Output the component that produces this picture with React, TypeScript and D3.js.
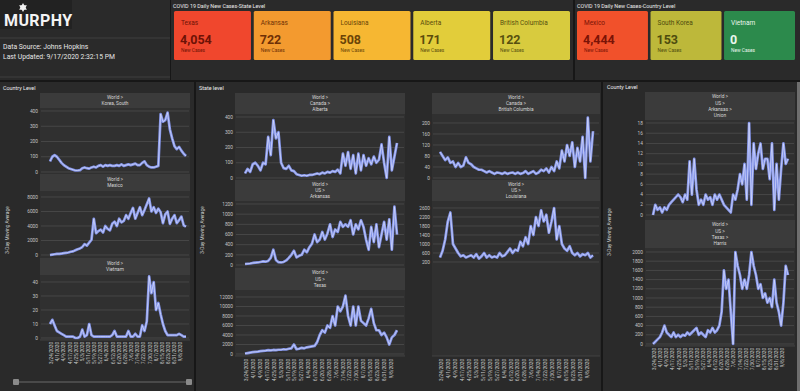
import React from "react";
import * as d3 from "d3";

const W = 800;
const H = 391;
const FONT = "Roboto, 'Open Sans', Arial, sans-serif";

// ---- KPI cards
const stateNames = ["Texas", "Arkansas", "Louisiana", "Alberta", "British Columbia"];
const stateCases = [4054, 722, 508, 171, 122];
const countryNames = ["Mexico", "South Korea", "Vietnam"];
const countryCases = [4444, 153, 0];

const stateFills = ["#f0472d", "#f39a2f", "#f6b732", "#e2cd3a", "#d8cb3e"];
const stateInk = ["#6d1206", "#6e3006", "#6a4507", "#5a4c0c", "#57500f"];
const countryFills = ["#f1512b", "#bdb83a", "#2c8a4c"];
const countryInk = ["#7a1306", "#4e4c0e", "#eaf6ec"];

// ---- time axis (3-day samples from 3/22/2020)
const startDate = new Date(2020, 2, 22);
const stepDays = 3;
const dateLabels = [
  "3/24/2020", "4/1/2020", "4/9/2020", "4/17/2020", "4/25/2020", "5/3/2020",
  "5/11/2020", "5/19/2020", "5/27/2020", "6/4/2020", "6/12/2020", "6/20/2020",
  "6/28/2020", "7/6/2020", "7/14/2020", "7/22/2020", "7/30/2020", "8/7/2020",
  "8/15/2020", "8/23/2020", "8/31/2020", "9/8/2020",
];

// ---- 3-day moving averages
const korea = [70, 100, 110, 100, 80, 60, 45, 35, 25, 20, 15, 10, 10, 12, 25, 30, 25, 22, 30, 35,
  30, 40, 45, 35, 45, 40, 45, 40, 40, 45, 40, 50, 40, 45, 50, 45, 50, 55, 45, 45,
  60, 70, 45, 35, 30, 30, 35, 40, 380, 330, 340, 390, 280, 220, 170, 150, 165, 140, 120, 105];
const mexico = [0, 50, 100, 150, 150, 200, 250, 300, 350, 450, 500, 650, 800, 900, 1100, 1500, 1300, 1700, 2100, 5000,
  3000, 3300, 3500, 3100, 4000, 3600, 3400, 4300, 4600, 4000, 5000, 4500, 4700, 5500, 5000, 5800, 6500, 5000, 5800, 6600,
  5500, 6200, 7000, 7800, 6000, 6600, 5800, 6400, 5900, 4400, 5600, 6000, 4300, 5000, 5500, 4400, 4800, 5300, 4100, 3900];
const vietnam = [10, 13, 9, 5, 4, 3, 2, 1, 1, 1, 1, 0, 0, 1, 6, 1, 2, 10, 2, 1,
  1, 1, 1, 1, 1, 1, 1, 2, 5, 1, 1, 1, 1, 1, 5, 1, 1, 3, 1, 1,
  9, 5, 12, 44, 32, 40, 20, 25, 17, 10, 5, 2, 2, 2, 2, 2, 3, 2, 1, 1];
const alberta = [30, 60, 40, 90, 100, 80, 50, 100, 90, 270, 150, 380, 260, 300, 100, 65, 60, 80, 50, 45,
  25, 20, 15, 18, 15, 20, 20, 25, 30, 25, 35, 30, 40, 35, 45, 40, 55, 30, 160, 80,
  170, 60, 150, 30, 160, 50, 150, 80, 130, 90, 140, 100, 120, 220, 100, 0, 270, 50, 140, 230];
const arkansas = [20, 25, 30, 40, 45, 50, 60, 70, 65, 80, 140, 300, 100, 55, 50, 60, 90, 140, 200, 280,
  150, 180, 200, 300, 250, 350, 420, 600, 450, 500, 650, 500, 620, 800, 550, 700, 650, 850, 750, 800,
  750, 880, 600, 800, 700, 880, 750, 500, 300, 750, 450, 800, 350, 600, 850, 500, 900, 300, 1150, 600];
const texas = [100, 200, 300, 400, 450, 500, 600, 650, 700, 800, 750, 850, 800, 900, 900, 1000, 950, 1100, 1200, 2000,
  1000, 1100, 1300, 1200, 1400, 1500, 1600, 1700, 2500, 4000, 5000, 4500, 6000, 5500, 8000, 6000, 10000, 9000, 10000, 12300,
  8000, 6000, 10000, 6000, 10000, 7000, 6500, 6000, 7500, 9500, 6500, 5000, 5000, 4000, 4500, 3500, 2000, 3500, 4000, 5000];
const britishColumbia = [95, 80, 65, 75, 55, 60, 40, 55, 40, 45, 75, 55, 50, 40, 35, 30, 30, 25, 20, 25,
  20, 15, 20, 18, 15, 20, 15, 18, 20, 15, 20, 15, 18, 25, 15, 20, 25, 15, 20, 30,
  25, 35, 20, 40, 25, 60, 35, 100, 60, 120, 80, 130, 40, 110, 60, 150, 0, 220, 60, 170];
const louisiana = [400, 700, 1200, 2000, 2400, 1000, 800, 600, 450, 500, 400, 450, 500, 400, 550, 350, 450, 600, 400, 500,
  400, 450, 400, 600, 450, 500, 650, 800, 600, 750, 700, 1100, 900, 1300, 1000, 1800, 1400, 2200, 1800, 2500,
  2000, 2300, 1500, 2000, 2600, 1200, 1800, 1000, 800, 700, 900, 600, 500, 600, 450, 550, 500, 600, 400, 500];
const union = [0, 2, 1, 1.5, 0.5, 1.5, 1, 2, 2.5, 3, 3.5, 4, 3.5, 2.5, 4, 3, 10.5, 4, 11, 5,
  2, 3, 2, 4, 3, 3.5, 2, 4, 3, 4, 3, 2, 1.5, 1, 0.5, 4, 3, 5, 8, 6,
  10, 3, 18, 2, 14, 9, 12, 14, 9, 11, 11, 7, 14, 1, 10, 3, 9, 14, 10, 11];
const harris = [0, 50, 100, 150, 250, 400, 250, 200, 150, 250, 150, 200, 150, 200, 180, 250, 200, 250, 300, 350,
  200, 250, 200, 150, 300, 250, 350, 250, 300, 400, 700, 1600, 1200, 1400, 700, 0, 2000, 1700, 1500, 1200,
  1400, 1200, 1500, 2000, 1700, 1500, 1200, 1300, 1000, 1100, 900, 1000, 800, 1400, 900, 700, 400, 900, 1700, 1500];

const endDate = d3.timeDay.offset(startDate, stepDays * (korea.length - 1));
const parseDate = d3.timeParse("%m/%d/%Y");

type Facet = {
  lines: string[];
  values: number[];
  min: number;
  max: number;
  step: number;
  hTop: number;
  hBot: number;
  yTop: number;
  yBot: number;
};

type Column = {
  hx0: number;
  hx1: number;
  dx0: number;
  dx1: number;
  bgTop: number;
  bgBot: number;
  axisY: number;
  facets: Facet[];
};

const countryCol: Column = {
  hx0: 40, hx1: 190, dx0: 50, dx1: 186, bgTop: 93, bgBot: 340, axisY: 342,
  facets: [
    { lines: ["World >", "Korea, South"], values: korea, min: 0, max: 400, step: 100, hTop: 93, hBot: 108, yTop: 111, yBot: 172 },
    { lines: ["World >", "Mexico"], values: mexico, min: 0, max: 8000, step: 2000, hTop: 174, hBot: 191, yTop: 197, yBot: 255 },
    { lines: ["World >", "Vietnam"], values: vietnam, min: 0, max: 40, step: 10, hTop: 258, hBot: 275, yTop: 282, yBot: 338 },
  ],
};

const stateLeftCol: Column = {
  hx0: 235, hx1: 405, dx0: 245, dx1: 397, bgTop: 93, bgBot: 356, axisY: 359,
  facets: [
    { lines: ["World >", "Canada >", "Alberta"], values: alberta, min: 0, max: 400, step: 100, hTop: 93, hBot: 114, yTop: 117, yBot: 178 },
    { lines: ["World >", "US >", "Arkansas"], values: arkansas, min: 0, max: 1200, step: 200, hTop: 180, hBot: 201, yTop: 204, yBot: 265 },
    { lines: ["World >", "US >", "Texas"], values: texas, min: 0, max: 12000, step: 2000, hTop: 268, hBot: 290, yTop: 297, yBot: 354 },
  ],
};

const stateRightCol: Column = {
  hx0: 432, hx1: 600, dx0: 440, dx1: 593, bgTop: 93, bgBot: 356, axisY: 359,
  facets: [
    { lines: ["World >", "Canada >", "British Columbia"], values: britishColumbia, min: 0, max: 200, step: 40, hTop: 93, hBot: 114, yTop: 123, yBot: 178 },
    { lines: ["World >", "US >", "Louisiana"], values: louisiana, min: 200, max: 2600, step: 400, hTop: 180, hBot: 201, yTop: 208, yBot: 262 },
  ],
};

const countyCol: Column = {
  hx0: 645, hx1: 795, dx0: 653, dx1: 788, bgTop: 92, bgBot: 346, axisY: 348,
  facets: [
    { lines: ["World >", "US >", "Arkansas >", "Union"], values: union, min: 0, max: 18, step: 2, hTop: 92, hBot: 120, yTop: 123, yBot: 215 },
    { lines: ["World >", "US >", "Texas >", "Harris"], values: harris, min: 0, max: 2000, step: 200, hTop: 220, hBot: 248, yTop: 252, yBot: 344 },
  ],
};

const fmtTick = d3.format("d");
const fmtCases = d3.format(",");

function FacetChart({ f, col }: { f: Facet; col: Column }) {
  const x = d3.scaleTime().domain([startDate, endDate]).range([col.dx0, col.dx1]);
  const y = d3.scaleLinear().domain([f.min, f.max]).range([f.yBot, f.yTop]);
  const ticks = d3.range(f.min, f.max + f.step / 2, f.step);
  const line = d3
    .line<number>()
    .x((_, i) => x(d3.timeDay.offset(startDate, stepDays * i)))
    .y((v) => y(v));
  const path = line(f.values) || "";
  const cx = (col.hx0 + col.hx1) / 2;
  const mid = (f.hTop + f.hBot) / 2;
  const lh = 6.2;
  return (
    <g>
      <rect x={col.hx0} y={f.hTop} width={col.hx1 - col.hx0} height={f.hBot - f.hTop} fill="#3b3b3b" />
      {f.lines.map((t, i) => (
        <text key={t + i} x={cx} y={mid - ((f.lines.length - 1) * lh) / 2 + i * lh} dy="0.35em"
          textAnchor="middle" fontSize={4.8} fill="#d6d6d6">{t}</text>
      ))}
      {ticks.map((t) => (
        <g key={t}>
          <line x1={col.hx0 + 1} x2={col.hx1 - 1} y1={y(t)} y2={y(t)} stroke="#4d4d4d" strokeWidth={0.8} />
          <text x={col.hx0 - 2} y={y(t)} dy="0.35em" textAnchor="end" fontSize={4.8} fill="#c4c4c4">{fmtTick(t)}</text>
        </g>
      ))}
      <path d={path} fill="none" stroke="#8494e8" strokeWidth={2.7} strokeLinejoin="round" />
      <path d={path} fill="none" stroke="#e2e7ff" strokeWidth={0.9} strokeLinejoin="round" opacity={0.7} />
    </g>
  );
}

function ColumnChart({ col }: { col: Column }) {
  const x = d3.scaleTime().domain([startDate, endDate]).range([col.dx0, col.dx1]);
  return (
    <g>
      <rect x={col.hx0} y={col.bgTop} width={col.hx1 - col.hx0} height={col.bgBot - col.bgTop} fill="#303030" />
      {col.facets.map((f, i) => (
        <FacetChart key={i} f={f} col={col} />
      ))}
      <line x1={col.hx0} x2={col.hx1} y1={col.bgBot} y2={col.bgBot} stroke="#484848" strokeWidth={0.8} />
      {dateLabels.map((d) => {
        const px = x(parseDate(d) as Date);
        return (
          <text key={d} transform={`translate(${px},${col.axisY}) rotate(-90)`} dy="0.35em"
            textAnchor="end" fontSize={4.6} fill="#c8c8c8">{d}</text>
        );
      })}
    </g>
  );
}

function Cards({ names, cases, fills, ink, x0, x1 }: {
  names: string[]; cases: number[]; fills: string[]; ink: string[]; x0: number; x1: number;
}) {
  const band = d3.scaleBand<string>().domain(names).range([x0, x1]).paddingInner(0.035);
  return (
    <g>
      {names.map((n, i) => {
        const bx = band(n) as number;
        return (
          <g key={n}>
            <rect x={bx} y={11} width={band.bandwidth()} height={49} rx={1.5} fill={fills[i]} />
            <text x={bx + 7} y={25} fontSize={6.5} fill={ink[i]}>{n}</text>
            <text x={bx + 6} y={44} fontSize={12.5} fontWeight="bold" fill={ink[i]}>{fmtCases(cases[i])}</text>
            <text x={bx + 7} y={52} fontSize={4.8} fill={ink[i]}>New Cases</text>
          </g>
        );
      })}
    </g>
  );
}

function YTitle({ x, y }: { x: number; y: number }) {
  return (
    <text transform={`translate(${x},${y}) rotate(-90)`} textAnchor="middle" dy="0.35em" fontSize={4.8} fill="#cfcfcf">
      3-Day Moving Average
    </text>
  );
}

export default function App() {
  const star = d3.symbol().type(d3.symbolTriangle).size(26)() || "";
  return (
    <svg width={W} height={H} style={{ position: "absolute", left: 0, top: 0, fontFamily: FONT }}>
      <rect width={W} height={H} fill="#171717" />

      {/* top panels */}
      <rect x={0} y={0} width={170} height={80} fill="#2a2a2a" />
      <rect x={0} y={0} width={72} height={29} fill="#222" />
      <rect x={171} y={0} width={402} height={80} fill="#2a2a2a" />
      <rect x={575} y={0} width={225} height={80} fill="#2a2a2a" />

      <g transform="translate(23,7.5)" fill="#f2f2f2">
        <path d={star} />
        <path d={star} transform="rotate(180)" />
      </g>
      <text x={4} y={26} fontSize={16} fontWeight="bold" fill="#f4f4f4" letterSpacing={0.4}>MURPHY</text>
      <line x1={0} x2={170} y1={38} y2={38} stroke="#3e3e3e" />
      <text x={3} y={49} fontSize={6.8} fill="#e6e6e6">Data Source: Johns Hopkins</text>
      <text x={3} y={59} fontSize={6.8} fill="#e6e6e6">Last Updated: 9/17/2020 2:32:15 PM</text>
      <line x1={0} x2={170} y1={77} y2={77} stroke="#3e3e3e" />

      <text x={173} y={7.5} fontSize={5.4} fill="#ececec">COVID 19 Daily New Cases-State Level</text>
      <Cards names={stateNames} cases={stateCases} fills={stateFills} ink={stateInk} x0={174} x1={570} />
      <text x={577} y={7.5} fontSize={5.4} fill="#ececec">COVID 19 Daily New Cases-Country Level</text>
      <Cards names={countryNames} cases={countryCases} fills={countryFills} ink={countryInk} x0={577} x1={795} />

      {/* bottom panels */}
      <rect x={0} y={82} width={194} height={309} fill="#2a2a2a" />
      <rect x={196} y={82} width={405} height={309} fill="#2a2a2a" />
      <rect x={603} y={82} width={197} height={309} fill="#2a2a2a" />
      <text x={3} y={90} fontSize={5.4} fill="#ececec">Country Level</text>
      <text x={199} y={90} fontSize={5.4} fill="#ececec">State level</text>
      <text x={607} y={89} fontSize={5.4} fill="#ececec">County Level</text>

      <YTitle x={7} y={230} />
      <YTitle x={202} y={230} />
      <YTitle x={609} y={232} />

      <ColumnChart col={countryCol} />
      <ColumnChart col={stateLeftCol} />
      <ColumnChart col={stateRightCol} />
      <ColumnChart col={countyCol} />

      {/* range slider under country charts */}
      <line x1={16} x2={189} y1={382} y2={382} stroke="#4a4a4a" strokeWidth={2} />
      <rect x={13} y={379} width={6} height={6} rx={1} fill="#8a8a8a" />
      <rect x={186} y={379} width={6} height={6} rx={1} fill="#8a8a8a" />

      <rect x={797} y={82} width={3} height={309} fill="#6e6e6e" />
    </svg>
  );
}
